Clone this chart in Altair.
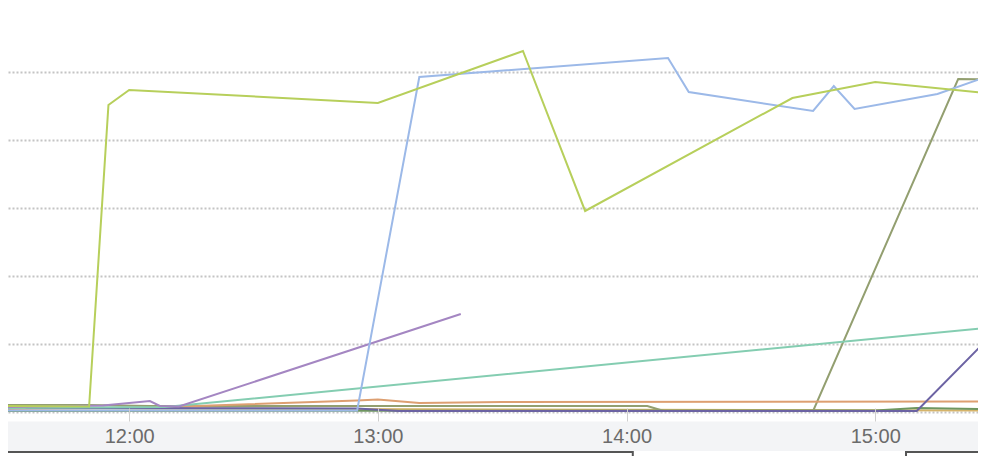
import altair as alt
import pandas as pd

DAY = "2024-01-01T"

# ---- series (time of day, value) ----
tan_t = ["11:28:50", "11:35:00", "13:30:00", "15:26:40"]
tan_v = [1.18, 1.18, 0.74, 0.44]

dkgreen_t = ["11:28:50", "15:00:00", "15:10:00", "15:26:40"]
dkgreen_v = [0.29, 0.44, 1.18, 0.88]

olive_t = ["11:28:50", "11:50:00", "12:05:00", "14:05:00", "14:09:00", "14:45:00", "15:20:00", "15:26:40"]
olive_v = [2.06, 2.06, 1.76, 1.76, 0.29, 0.29, 97.94, 97.79]

orange_t = ["11:28:50", "12:05:00", "12:55:00", "13:00:00", "13:10:00", "13:30:00", "15:26:40"]
orange_v = [0.88, 1.32, 3.38, 3.68, 2.65, 2.94, 3.09]

indigo_t = ["11:35:00", "12:55:00", "13:05:00", "15:10:00", "15:25:00", "15:26:40"]
indigo_v = [1.18, 1.03, 0.29, 0.29, 18.82, 16.76]

teal_t = ["11:28:50", "12:08:40", "15:26:40"]
teal_v = [1.18, 1.47, 24.71]

purple_t = ["11:28:50", "11:53:40", "12:05:00", "12:07:25", "12:12:00", "13:20:00"]
purple_v = [1.47, 1.91, 3.24, 1.76, 1.62, 28.82]

blue_t = ["11:28:50", "12:55:00", "13:10:00", "14:10:00", "14:15:00", "14:45:00", "14:50:00", "14:55:00", "15:15:00", "15:26:40"]
blue_v = [0.44, 0.44, 98.53, 104.12, 94.12, 88.53, 95.88, 89.12, 93.53, 98.53]

yg_t = ["11:28:50", "11:50:20", "11:55:00", "12:00:00", "13:00:00", "13:35:00", "13:50:00", "14:40:00", "15:00:00", "15:26:40"]
yg_v = [1.76, 1.62, 90.29, 94.71, 90.88, 106.18, 59.12, 92.35, 97.06, 93.82]

series = [
    ("tan", "#d6b46a", tan_t, tan_v),
    ("dark green", "#6f9660", dkgreen_t, dkgreen_v),
    ("olive", "#939f70", olive_t, olive_v),
    ("orange", "#dd9f71", orange_t, orange_v),
    ("indigo", "#6c63a3", indigo_t, indigo_v),
    ("teal", "#84cdb1", teal_t, teal_v),
    ("purple", "#a486c2", purple_t, purple_v),
    ("blue", "#9cb9e8", blue_t, blue_v),
    ("yellow-green", "#b7cf5b", yg_t, yg_v),
]

rows = []
for order, (name, _c, ts, vs) in enumerate(series):
    for t, v in zip(ts, vs):
        rows.append({"series": name, "t": DAY + t, "v": v, "o": order})
df = pd.DataFrame(rows)

names = [s[0] for s in series]
cols = [s[1] for s in series]

# boxes below the axis band
box_start = [DAY + "11:20:00", DAY + "15:07:25"]
box_end = [DAY + "14:01:30", DAY + "15:40:00"]
boxes = pd.DataFrame({"s": box_start, "e": box_end})

W, H = 970, 448

def dt(h, m=0, s=0):
    return alt.DateTime(year=2024, month=1, date=1, hours=h, minutes=m, seconds=s)

xscale = alt.Scale(domain=[dt(11, 30, 46), dt(15, 24, 47)])
yscale = alt.Scale(domain=[-12.94, 118.82], nice=False, zero=False)

band = alt.Chart(pd.DataFrame({"a": [0]})).mark_rect(color="#f3f4f6").encode(
    x=alt.value(0), x2=alt.value(W), y=alt.value(413.5), y2=alt.value(443)
)

lines = alt.Chart(df).mark_line(strokeWidth=2, clip=True, interpolate="linear").encode(
    x=alt.X("t:T", scale=xscale, title=None,
            axis=alt.Axis(values=[dt(12), dt(13), dt(14), dt(15)], format="%H:%M",
                          orient="bottom", offset=-48, domain=False, grid=False,
                          ticks=True, tickSize=13, tickColor="#cfcfcf", tickWidth=1,
                          labelFontSize=20, labelColor="#6b6b6b", labelFont="Liberation Sans",
                          labelPadding=5, labelFlush=False, zindex=1)),
    y=alt.Y("v:Q", scale=yscale, title=None,
            axis=alt.Axis(values=[0, 20, 40, 60, 80, 100], labels=False, ticks=False,
                          domain=False, grid=True, gridColor="#c4c4c4", gridDash=[2, 2],
                          gridWidth=2)),
    color=alt.Color("series:N", scale=alt.Scale(domain=names, range=cols), legend=None),
    order=alt.Order("o:Q"),
    detail="series:N",
)

box = alt.Chart(boxes).mark_rect(filled=False, stroke="#555555", strokeWidth=2).encode(
    x="s:T", x2="e:T", y=alt.value(444), y2=alt.value(470)
)

chart = alt.layer(band, lines, box).properties(
    width=W, height=H, padding=0, autosize="none", background="white"
).configure_view(strokeWidth=0)

chart.save("out.html", embed_options={"renderer": "svg", "actions": False})
